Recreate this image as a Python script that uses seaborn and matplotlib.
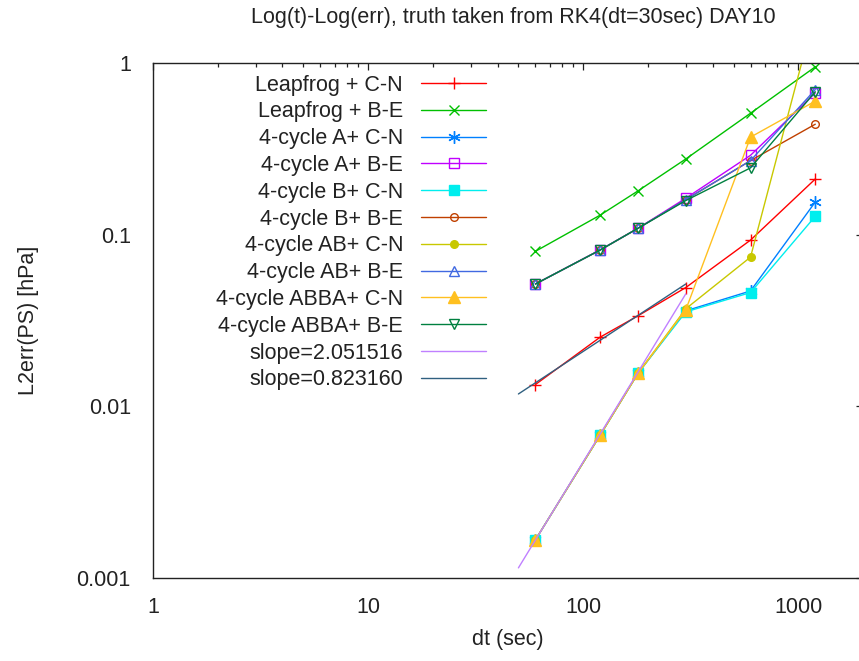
import numpy as np
import pandas as pd
import matplotlib
matplotlib.use("Agg")
import matplotlib.pyplot as plt
from matplotlib.ticker import LogLocator, FixedLocator, FuncFormatter, NullFormatter
import seaborn as sns

# time steps (sec)
dt = [60, 120, 180, 300, 600, 1200]

# L2 error of surface pressure [hPa] for each scheme
leapfrog_cn = [0.0134, 0.0253, 0.0337, 0.0492, 0.093, 0.211]
leapfrog_be = [0.080, 0.130, 0.180, 0.276, 0.51, 0.95]
a_cn = [0.00167, 0.0068, 0.0156, 0.036, 0.047, 0.155]
a_be = [0.0516, 0.0816, 0.109, 0.163, 0.29, 0.67]
b_cn = [0.00167, 0.0068, 0.0156, 0.0355, 0.046, 0.128]
b_be = [0.0516, 0.0814, 0.109, 0.160, 0.27, 0.44]
ab_cn = [0.00167, 0.0068, 0.0156, 0.037, 0.074, 2.0]
ab_be = [0.0516, 0.0814, 0.109, 0.160, 0.27, 0.70]
abba_cn = [0.00167, 0.0068, 0.0156, 0.0365, 0.37, 0.60]
abba_be = [0.0516, 0.0814, 0.109, 0.158, 0.245, 0.68]

labels = ["Leapfrog + C-N", "Leapfrog + B-E", "4-cycle A+ C-N", "4-cycle A+ B-E",
          "4-cycle B+ C-N", "4-cycle B+ B-E", "4-cycle AB+ C-N", "4-cycle AB+ B-E",
          "4-cycle ABBA+ C-N", "4-cycle ABBA+ B-E"]
series = [leapfrog_cn, leapfrog_be, a_cn, a_be, b_cn, b_be, ab_cn, ab_be, abba_cn, abba_be]

# power-law fits: log10(err) = intercept + slope * log10(dt), over dt in [50, 300]
fit_range = [50, 300]
fit_slopes = [2.051516, 0.823160]
fit_intercepts = [-6.4265, -3.3265]

colors = ["#ff0000", "#00c000", "#0080ff", "#c000ff", "#00eeee", "#c04000",
          "#c8c800", "#4169e1", "#ffc020", "#008040"]
fit_colors = ["#c080ff", "#306080"]
# (marker, filled, size)
markers = [("+", False, 8.5), ("x", False, 7.5), ("*", False, 8), ("s", False, 6.5),
           ("s", True, 6.5), ("o", False, 5.5), ("o", True, 5.5), ("^", False, 7),
           ("^", True, 8), ("v", False, 7)]

sns.set_theme(style="white")
plt.rcParams["font.family"] = ["Liberation Sans", "DejaVu Sans"]
plt.rcParams["text.color"] = "#222222"
plt.rcParams["axes.labelcolor"] = "#222222"
plt.rcParams["xtick.color"] = "#222222"
plt.rcParams["ytick.color"] = "#222222"

FS = 15.5
fig = plt.figure(figsize=(8.59, 6.61), dpi=100)
ax = fig.add_axes([153 / 859, 83 / 661, 710 / 859, 515 / 661])

for lab, ys, col, (m, filled, ms) in zip(labels, series, colors, markers):
    df = pd.DataFrame({"dt": dt, "err": ys})
    kw = dict(marker=m, markersize=ms, markeredgecolor=col, markeredgewidth=1.0,
              markerfacecolor=col if filled else "none")
    if m == "*":
        kw.update(marker=(6, 2, 0), markersize=9)
    sns.lineplot(data=df, x="dt", y="err", ax=ax, color=col, lw=1.0,
                 estimator=None, sort=False, label=lab, **kw)

for s, b, col in zip(fit_slopes, fit_intercepts, fit_colors):
    fx = np.array(fit_range, dtype=float)
    fy = 10 ** (b + s * np.log10(fx))
    sns.lineplot(x=fx, y=fy, ax=ax, color=col, lw=1.0, estimator=None, sort=False,
                 label="slope=%f" % s)

ax.set_xscale("log")
ax.set_yscale("log")
ax.set_xlim(1, 2000)
ax.set_ylim(0.001, 1)

ax.xaxis.set_major_locator(FixedLocator([1, 10, 100, 1000]))
ax.yaxis.set_major_locator(FixedLocator([0.001, 0.01, 0.1, 1]))
ax.xaxis.set_minor_locator(LogLocator(base=10, subs=np.arange(2, 10), numticks=20))
ax.yaxis.set_minor_locator(LogLocator(base=10, subs=np.arange(2, 10), numticks=20))
fmt = FuncFormatter(lambda v, p: "%g" % v)
ax.xaxis.set_major_formatter(fmt)
ax.yaxis.set_major_formatter(fmt)
ax.xaxis.set_minor_formatter(NullFormatter())
ax.yaxis.set_minor_formatter(NullFormatter())

ax.tick_params(which="both", direction="in", top=True, right=True, width=0.9,
               color="#222222", labelsize=FS)
ax.tick_params(which="major", length=5)
ax.tick_params(which="minor", length=2.6)
ax.tick_params(axis="x", which="major", pad=13.5)
ax.tick_params(axis="y", which="major", pad=16)

for sp in ax.spines.values():
    sp.set_color("#222222")
    sp.set_linewidth(1.0)

ax.set_xlabel("dt (sec)", fontsize=FS)
ax.set_ylabel("L2err(PS) [hPa]", fontsize=FS)
ax.xaxis.set_label_coords((508 - 153) / 710, (578 - 629) / 515)
ax.yaxis.set_label_coords((39 - 153) / 710, 0.5)

fig.text(513 / 859, 1 - 17 / 661, "Log(t)-Log(err), truth taken from RK4(dt=30sec) DAY10",
         fontsize=FS, ha="center", va="center")

leg = ax.legend(loc="upper right", bbox_to_anchor=(486 / 859, 1 - 74.5 / 661),
                bbox_transform=fig.transFigure, frameon=False, markerfirst=False,
                fontsize=FS, handlelength=3.0, handletextpad=0.85, labelspacing=0.27,
                borderpad=0, borderaxespad=0)

fig.savefig("out.png", dpi=100)
